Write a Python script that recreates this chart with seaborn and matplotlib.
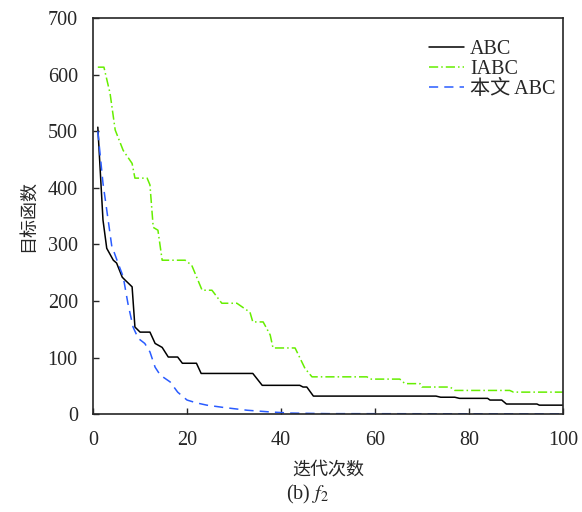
import numpy as np
import pandas as pd
import seaborn as sns
import matplotlib.pyplot as plt

# breakpoints (iteration, objective)
abc_x = [1, 2.1, 2.9, 4.3, 5, 6.2, 6.8, 8.3, 8.9, 10, 12.1, 13.2, 14.7, 16, 18, 19, 22, 23, 34,
         36, 44, 44.7, 45.5, 46.9, 73, 74, 77, 78, 84, 84.5, 87, 88, 94.5, 95, 100]
abc_y = [507, 343, 293, 272, 267, 242, 237, 225, 154, 145, 145, 125, 118, 101, 101, 90, 90, 72, 72,
         51, 51, 48, 48, 32, 32, 30, 30, 28, 28, 25, 25, 18, 18, 16, 16]

iabc_x = [1, 2.3, 3.6, 4.7, 6.4, 8.3, 8.9, 11.5, 12.1, 12.8, 13.8, 14.7, 19.6, 21, 23.2, 25.3, 27.4,
          30.6, 33.4, 34, 36.2, 37.7, 38.3, 43, 45.1, 46.6, 58.3, 59, 65.3, 66.4, 69.6, 70, 76, 77,
          88.7, 89.5, 100]
iabc_y = [613, 613, 567, 502, 466, 443, 417, 417, 405, 330, 325, 272, 272, 263, 219, 219, 196,
          196, 180, 163, 163, 140, 117, 117, 81, 66, 66, 62, 62, 54, 54, 48, 48, 42,
          42, 39, 39]

ours_x = [1, 2.1, 3.2, 4, 4.3, 5.3, 6.4, 7.4, 8.5, 9.6, 11, 12.1, 13.2, 14.3, 16.4, 18, 20, 22,
          24.2, 27.7, 32.8, 37.7, 42, 50, 100]
ours_y = [500, 408, 343, 295, 290, 267, 243, 196, 154, 134, 125, 110, 83, 69, 57, 39, 25, 20,
          16, 12, 7, 4, 2, 1, 0.5]

labels = ["ABC", "IABC", "本文 ABC"]

df = pd.concat([
    pd.DataFrame({"iter": abc_x, "val": abc_y, "method": labels[0]}),
    pd.DataFrame({"iter": iabc_x, "val": iabc_y, "method": labels[1]}),
    pd.DataFrame({"iter": ours_x, "val": ours_y, "method": labels[2]}),
])

sns.set_style("ticks")
plt.rcParams["font.family"] = ["Liberation Serif", "Noto Sans CJK SC"]
plt.rcParams["mathtext.fontset"] = "stix"

fig = plt.figure(figsize=(5.82, 5.12), dpi=100)
ax = fig.add_axes([0.16, 0.191, 0.807, 0.774])

sns.lineplot(data=df, x="iter", y="val", hue="method", style="method",
             palette={"ABC": "black", "IABC": "#66ee00", "本文 ABC": "#2a5cff"},
             dashes={"ABC": "", "IABC": (6, 2, 1, 2), "本文 ABC": (6, 4)},
             sort=False, estimator=None, lw=1.1, ax=ax)

ax.set_xlim(0, 100)
ax.set_ylim(0, 700)
ax.set_xticks(range(0, 101, 20))
ax.set_yticks(range(0, 701, 100))
ax.tick_params(direction="in", labelsize=14.5, length=4, width=1)
ax.tick_params(axis="y", pad=11)
ax.tick_params(axis="x", pad=12)
for s in ax.spines.values():
    s.set_linewidth(1.2)

ax.set_xlabel("迭代次数", fontsize=13, labelpad=8)
ax.set_ylabel("目标函数", fontsize=13, labelpad=8)
fig.text(0.528, 0.025, "(b) $f_2$", ha="center", fontsize=14.5)

leg = ax.legend(loc="upper right", bbox_to_anchor=(1.023, 0.99), frameon=False,
                fontsize=14.5, handlelength=1.75, handletextpad=0.3,
                labelspacing=0.05, borderaxespad=0.5)

fig.savefig("out.png", dpi=100)
